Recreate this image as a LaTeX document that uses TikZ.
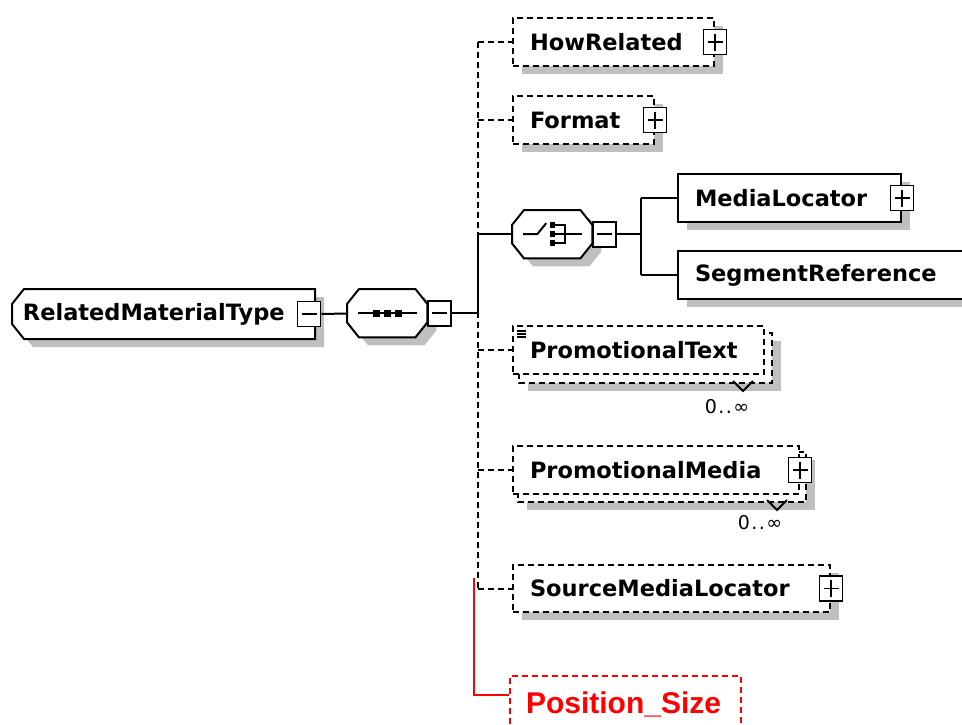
\documentclass[tikz,border=0pt]{standalone}
\usepackage{fontspec}
\usetikzlibrary{shadows}
\newfontfamily\boxfont{DejaVu Sans}
\newfontfamily\redfont{Liberation Sans}
\pgfdeclarelayer{bg}
\pgfsetlayers{bg,main}
\tikzset{
	shadowed/.style={drop shadow={shadow xshift=9pt,shadow yshift=-8pt,fill=gray!50,opacity=1}},
	elem/.style={draw,fill=white,line width=2pt,anchor=north west,minimum height=48pt,inner xsep=17pt,inner ysep=0pt,align=left,font=\boxfont\bfseries\fontsize{22.5}{27}\selectfont},
	optional/.style={dash pattern=on 6pt off 4pt},
	link/.style={line width=2pt},
	compframe/.style={draw,fill=white,line width=2pt,shadowed},
	pm/.style={draw,fill=white,line width=1.8pt,minimum width=23pt,minimum height=25pt,inner sep=0pt},
	plus/.style={pm,path picture={\draw[line width=1.8pt] ([xshift=4pt]path picture bounding box.west) -- ([xshift=-4pt]path picture bounding box.east) ([yshift=-4pt]path picture bounding box.north) -- ([yshift=4pt]path picture bounding box.south);}},
	minus/.style={pm,path picture={\draw[line width=1.8pt] ([xshift=4pt]path picture bounding box.west) -- ([xshift=-4pt]path picture bounding box.east);}},
	mult/.style={font=\boxfont\fontsize{19}{22}\selectfont,inner sep=0pt}
}
% compositor outlines
\newcommand{\allcut}[1]{\draw[compframe] ([xshift=12pt]#1.north west) -- ([xshift=-12pt]#1.north east) -- ([yshift=-15pt]#1.north east) -- ([yshift=15pt]#1.south east) -- ([xshift=-12pt]#1.south east) -- ([xshift=12pt]#1.south west) -- ([yshift=15pt]#1.south west) -- ([yshift=-15pt]#1.north west) -- cycle;}
\newcommand{\leftcut}[1]{\draw[compframe] ([xshift=12pt]#1.north west) -- (#1.north east) -- (#1.south east) -- ([xshift=12pt]#1.south west) -- ([yshift=15pt]#1.south west) -- ([yshift=-15pt]#1.north west) -- cycle;}
\begin{document}
\begin{tikzpicture}[x=1pt,y=-1pt]
	\useasboundingbox (0,0) rectangle (962,724);
	% Root and compositors
	\node[elem,draw=none,fill=none,inner xsep=10pt,text width=281pt] (root) at (12,289) {RelatedMaterialType};
	\node[minimum width=80pt,minimum height=48pt,anchor=north west] (seq) at (347,289) {};
	\node[minimum width=80pt,minimum height=48pt,anchor=north west] (choice) at (512,210) {};
	\node[minus] (rootminus) at ([xshift=-6pt]root.east) {};
	\node[minus,anchor=west] (seqminus) at (seq.east) {};
	\node[minus,anchor=west] (choiceminus) at (choice.east) {};
	\begin{pgfonlayer}{bg}
		\leftcut{root}
		\allcut{seq}
		\allcut{choice}
	\end{pgfonlayer}
	\begin{scope}[shift={(seq.center)}]
		\draw[line width=2pt] (-29,0) -- (30,0);
		\foreach \dx in {-11,0,11} \fill (\dx-3.5,-3.5) rectangle (\dx+3.5,3.5);
	\end{scope}
	\begin{scope}[shift={(choice.center)}]
		\draw[line width=2pt] (-29,0) -- (-15,0) -- (-6,-11);
		\foreach \dy in {-9,0,9} \fill (-2,\dy-3) rectangle (3,\dy+3);
		\draw[line width=2pt] (3,-9) -- (13,-9) -- (13,9) -- (3,9) (3,0) -- (30,0);
	\end{scope}
	% Children
	\node[elem,optional,shadowed,text width=167pt] (howrel) at (512,17) {HowRelated};
	\node[elem,optional,shadowed,text width=107pt] (format) at (512,95) {Format};
	\node[elem,shadowed,text width=189pt] (medialoc) at (677,173) {MediaLocator};
	\node[elem,shadowed,text width=266pt] (segref) at (677,250) {SegmentReference};
	\node[elem,optional,text width=217pt] (promotext) at (512,325) {PromotionalText};
	\node[elem,optional,text width=252pt] (promomedia) at (512,445) {PromotionalMedia};
	\node[elem,optional,shadowed,text width=283pt,minimum height=47pt] (srcmedia) at (512,564) {SourceMediaLocator};
	\node[elem,optional,draw=red,text=red,inner xsep=16pt,text width=199pt,minimum height=56pt,font=\redfont\bfseries\fontsize{30}{34}\selectfont] (possize) at (509,675) {Position\_Size};
	\begin{pgfonlayer}{bg}
		\draw[compframe,optional] ([shift={(7pt,-8pt)}]promotext.north west) rectangle ([shift={(7pt,-8pt)}]promotext.south east);
		\draw[compframe,optional] ([shift={(6pt,-7pt)}]promomedia.north west) rectangle ([shift={(6pt,-7pt)}]promomedia.south east);
	\end{pgfonlayer}
	\foreach \dy in {6,9,12} \draw[line width=1.2pt] ([shift={(5pt,-\dy pt)}]promotext.north west) -- +(9,0);
	\node[plus] (howrelplus) at (howrel.east) {};
	\node[plus] (formatplus) at (format.east) {};
	\node[plus] (medialocplus) at (medialoc.east) {};
	\node[plus] (promomediaplus) at (promomedia.east) {};
	\node[plus] (srcmediaplus) at (srcmedia.east) {};
	% Occurrence marks
	\draw[line width=2pt] (733,381) -- (743,391) -- (753,381);
	\draw[line width=2pt] (767,500) -- (777,510) -- (787,500);
	\node[mult] (promotextmult) at (727,407) {0\kern1.5pt.\kern1.5pt.\kern1.5pt∞};
	\node[mult] (promomediamult) at (760,523) {0\kern1.5pt.\kern1.5pt.\kern1.5pt∞};
	% Connectors
	\coordinate (trunk) at (478,0);
	\coordinate (fork) at (641,0);
	\draw[link] (rootminus) -- (seq);
	\draw[link] (seqminus) -- (seqminus -| trunk);
	\draw[link,optional] (howrel.west -| trunk) -- (srcmedia.west -| trunk);
	\draw[link] (choice.west -| trunk) -- (seqminus -| trunk);
	\foreach \n in {howrel,format,promotext,promomedia,srcmedia}
		\draw[link,optional] (\n.west -| trunk) -- (\n.west);
	\draw[link] (choice.west -| trunk) -- (choice.west);
	\draw[link] (choiceminus) -- (choiceminus -| fork);
	\draw[link] (medialoc.west -| fork) -- (segref.west -| fork);
	\draw[link] (medialoc.west -| fork) -- (medialoc.west);
	\draw[link] (segref.west -| fork) -- (segref.west);
	% Red link
	\coordinate (redtop) at (474,578);
	\coordinate (redknee) at (474,695);
	\draw[red,line width=2pt] (redtop) -- (redknee) -- (redknee -| possize.west);
\end{tikzpicture}
\end{document}
